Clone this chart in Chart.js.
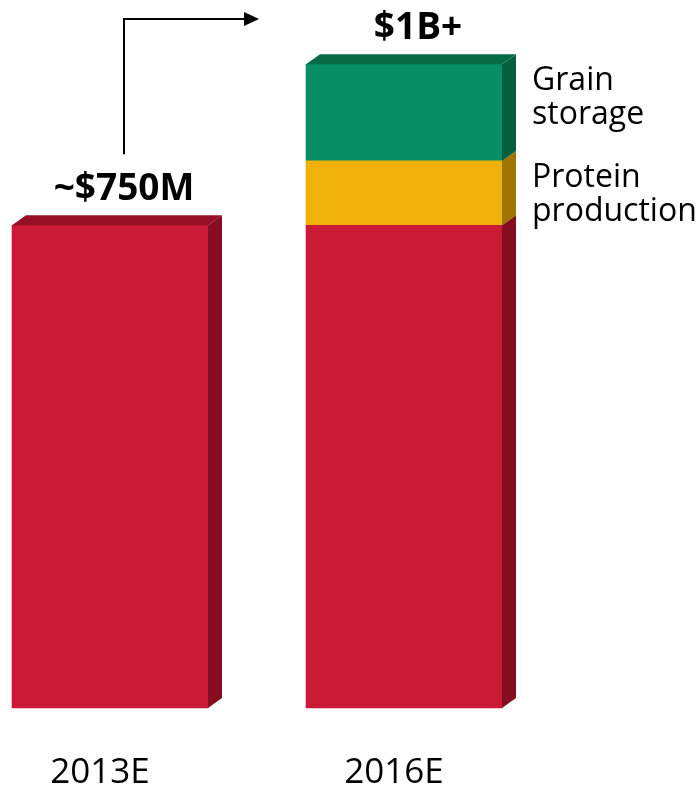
<!DOCTYPE html>
<html>
<head>
<meta charset="utf-8">
<script src="https://cdn.jsdelivr.net/npm/chart.js@4.4.0/dist/chart.umd.min.js"></script>
<style>
  html, body { margin: 0; padding: 0; background: #fff; }
</style>
</head>
<body>
<canvas id="marketChart" width="700" height="789"></canvas>
<script>
// market size, $M
const years = ['2013E', '2016E'];
const coreValues = [750, 750];
const proteinValues = [0, 100];
const grainValues = [0, 150];
const totalLabels = ['~$750M', '$1B+'];
const segmentLabels = ['', 'Protein\nproduction', 'Grain\nstorage'];

// front / side / top face colours for each segment
const frontColors = ['#CA1A36', '#F0B20A', '#078E63'];
const sideColors = ['#850D20', '#A07500', '#05603F'];
const topColors = ['#960F25', '#B58600', '#066A47'];

const DEPTH_X = 14;
const DEPTH_Y = 10;

// fake 3D: side and top faces drawn from the bar elements
const depthPlugin = {
  id: 'depth3d',
  afterDatasetsDraw(chart) {
    const ctx = chart.ctx;
    const topSeg = {};
    chart.data.datasets.forEach((ds, di) => {
      const meta = chart.getDatasetMeta(di);
      meta.data.forEach((bar, i) => {
        if (!ds.data[i]) return;
        const p = bar.getProps(['x', 'y', 'base', 'width'], true);
        const right = p.x + p.width / 2;
        ctx.save();
        ctx.fillStyle = sideColors[di];
        ctx.beginPath();
        ctx.moveTo(right, p.base);
        ctx.lineTo(right + DEPTH_X, p.base - DEPTH_Y);
        ctx.lineTo(right + DEPTH_X, p.y - DEPTH_Y);
        ctx.lineTo(right, p.y);
        ctx.closePath();
        ctx.fill();
        ctx.restore();
        topSeg[i] = { di, p };
      });
    });
    Object.values(topSeg).forEach(({ di, p }) => {
      const left = p.x - p.width / 2;
      const right = p.x + p.width / 2;
      ctx.save();
      ctx.fillStyle = topColors[di];
      ctx.beginPath();
      ctx.moveTo(left, p.y);
      ctx.lineTo(left + DEPTH_X, p.y - DEPTH_Y);
      ctx.lineTo(right + DEPTH_X, p.y - DEPTH_Y);
      ctx.lineTo(right, p.y);
      ctx.closePath();
      ctx.fill();
      ctx.restore();
    });
  }
};

// totals above the bars, segment names beside them, growth arrow
const annotatePlugin = {
  id: 'annotate',
  afterDraw(chart) {
    const ctx = chart.ctx;
    const tops = [];
    years.forEach((_, i) => {
      let top = null;
      chart.data.datasets.forEach((ds, di) => {
        if (!ds.data[i]) return;
        const p = chart.getDatasetMeta(di).data[i].getProps(['x', 'y', 'width'], true);
        top = p;
      });
      tops.push(top);
    });

    ctx.save();
    ctx.fillStyle = '#000';
    ctx.textAlign = 'center';
    ctx.textBaseline = 'alphabetic';
    ctx.font = 'bold 37px "Open Sans"';
    tops.forEach((p, i) => {
      ctx.fillText(totalLabels[i], p.x + 14, p.y - DEPTH_Y - 15);
    });

    // segment names for the last bar
    ctx.textAlign = 'left';
    ctx.font = '32px "Open Sans"';
    const last = years.length - 1;
    chart.data.datasets.forEach((ds, di) => {
      if (!segmentLabels[di] || !ds.data[last]) return;
      const p = chart.getDatasetMeta(di).data[last].getProps(['x', 'y', 'base', 'width'], true);
      const cy = p.y + 20;
      const lines = segmentLabels[di].split('\n');
      const lh = 34;
      lines.forEach((ln, k) => {
        ctx.fillText(ln, p.x + p.width / 2 + 30, cy + k * lh + 6);
      });
    });

    // elbow arrow from first total to second
    const a = tops[0];
    const b = tops[last];
    const ax = a.x + 14;
    const ay0 = a.y - DEPTH_Y - 61;
    const ay1 = 19;
    const tipX = b.x - b.width / 2 - 47;
    ctx.strokeStyle = '#000';
    ctx.lineWidth = 2;
    ctx.beginPath();
    ctx.moveTo(ax, ay0);
    ctx.lineTo(ax, ay1);
    ctx.lineTo(tipX - 14, ay1);
    ctx.stroke();
    ctx.beginPath();
    ctx.moveTo(tipX, ay1);
    ctx.lineTo(tipX - 15, ay1 - 7);
    ctx.lineTo(tipX - 15, ay1 + 7);
    ctx.closePath();
    ctx.fill();
    ctx.restore();
  }
};

const datasetDefaults = { barThickness: 196, clip: false, borderWidth: 0 };

new Chart(document.getElementById('marketChart'), {
  type: 'bar',
  data: {
    labels: years,
    datasets: [
      { label: 'Core', data: coreValues, backgroundColor: frontColors[0], ...datasetDefaults },
      { label: 'Protein production', data: proteinValues, backgroundColor: frontColors[1], ...datasetDefaults },
      { label: 'Grain storage', data: grainValues, backgroundColor: frontColors[2], ...datasetDefaults }
    ]
  },
  options: {
    responsive: false,
    animation: false,
    devicePixelRatio: 1,
    layout: { padding: { left: 110, right: 296, top: 0, bottom: 0 } },
    plugins: { legend: { display: false }, tooltip: { enabled: false } },
    scales: {
      x: {
        stacked: true,
        offset: false,
        grid: { display: false, drawTicks: false },
        border: { display: false },
        ticks: {
          color: '#000',
          font: { family: 'Open Sans', size: 35 },
          padding: 44,
          labelOffset: -10,
          maxRotation: 0,
          autoSkip: false
        },
        afterFit(scale) { scale.height = 81; }
      },
      y: { stacked: true, display: false, min: 0, max: 1100 }
    }
  },
  plugins: [depthPlugin, annotatePlugin]
});
</script>
</body>
</html>
